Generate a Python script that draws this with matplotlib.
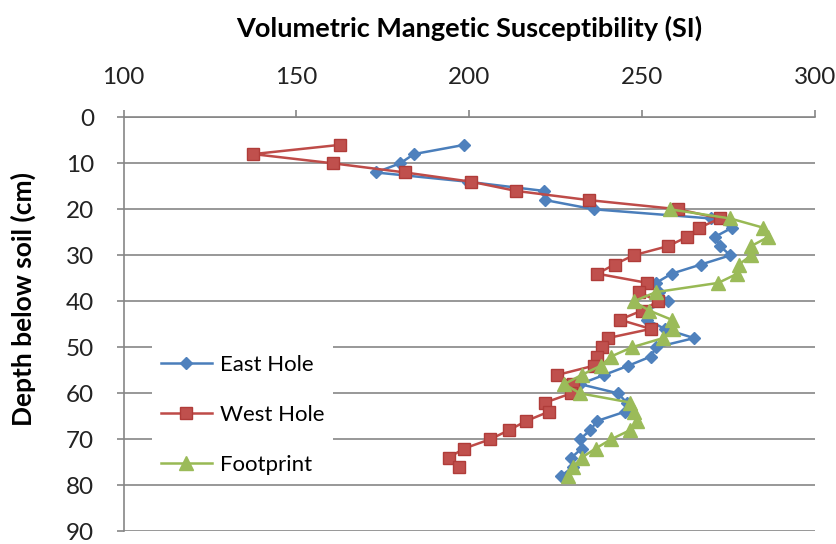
import matplotlib.pyplot as plt

# depth (cm) and susceptibility values
east_depth = [6, 8, 10, 12, 14, 16, 18, 20, 22, 24, 26, 28, 30, 32, 34, 36, 38, 40, 42,
              44, 46, 48, 50, 52, 54, 56, 58, 60, 62, 64, 66, 68, 70, 72, 74, 76, 78]
east_val = [198.5, 184, 180, 173, 199.5, 221.5, 222, 236, 270, 276, 271, 272.5, 275.5, 267,
            258.5, 254, 255, 257.5, 251, 251.5, 256.5, 265, 254, 252.5, 246, 239, 232, 243,
            245.5, 245, 237, 235, 232, 232.5, 229.5, 230, 226.5]

west_depth = [6, 8, 10, 12, 14, 16, 18, 20, 22, 24, 26, 28, 30, 32, 34, 36, 38, 40, 42,
              44, 46, 48, 50, 52, 54, 56, 58, 60, 62, 64, 66, 68, 70, 72, 74, 76]
west_val = [162.5, 137.5, 160.5, 181.5, 200.5, 213.5, 234.5, 260.5, 272.5, 266.5, 263, 257.5,
            247.5, 242, 237, 251.5, 249, 254.5, 250, 243.5, 252.5, 240, 238.5, 237, 236, 225.5,
            230, 229.5, 222, 223, 216.5, 211.5, 206, 198.5, 194, 197]

foot_depth = [20, 22, 24, 26, 28, 30, 32, 34, 36, 38, 40, 42, 44, 46, 48, 50, 52, 54, 56,
              58, 60, 62, 64, 66, 68, 70, 72, 74, 76, 78]
foot_val = [258, 275.5, 285, 286.5, 281.5, 281.5, 278, 277.5, 272, 254, 247.5, 252, 258.5,
            259, 256, 247, 241, 238, 232.5, 227.5, 232, 246.5, 247.5, 248.5, 246.5, 241,
            236.5, 232.5, 230, 228.5]

plt.rcParams['font.family'] = ['Lato', 'DejaVu Sans']

fig = plt.figure(figsize=(8.37, 5.44), dpi=100)
ax = fig.add_axes([0.1476, 0.0233, 0.8262, 0.7611])

ax.plot(east_val, east_depth, color='#4A7EBB', lw=1.8, marker='D', ms=6.5,
        mfc='#4F81BD', mec='#4F81BD', label='East Hole', zorder=3)
ax.plot(west_val, west_depth, color='#BE4B48', lw=1.8, marker='s', ms=9,
        mfc='#C0504D', mec='#B03C39', label='West Hole', zorder=3)
ax.plot(foot_val, foot_depth, color='#98B954', lw=1.8, marker='^', ms=10,
        mfc='#9BBB59', mec='#9BBB59', label='Footprint', zorder=3)

ax.set_xlim(100, 300)
ax.set_ylim(90, 0)
ax.set_xticks([100, 150, 200, 250, 300])
ax.set_yticks(range(0, 91, 10))

ax.xaxis.tick_top()
ax.xaxis.set_label_position('top')
ax.grid(axis='y', color='#868686', lw=1.2)
ax.set_axisbelow(True)

for s in ['right', 'bottom']:
    ax.spines[s].set_visible(False)
for s in ['left', 'top']:
    ax.spines[s].set_color('#868686')
    ax.spines[s].set_linewidth(1.2)

ax.tick_params(axis='both', labelsize=17.5, color='#868686', length=5, width=1.2,
               labelcolor='#222222')
ax.tick_params(axis='x', pad=16)
ax.tick_params(axis='y', pad=16)

ax.set_xlabel('Volumetric Mangetic Susceptibility (SI)', fontsize=19.5,
              fontweight='bold', labelpad=22)
ax.set_ylabel('Depth below soil (cm)', fontsize=19, fontweight='bold')
ax.yaxis.set_label_coords(-0.127, 0.56)

leg = ax.legend(loc='upper left', bbox_to_anchor=(0.025, 0.475), fontsize=16,
                frameon=True, framealpha=1, facecolor='white', edgecolor='none',
                fancybox=False, handlelength=2.3, handletextpad=0.35,
                labelspacing=1.35, borderpad=0.4)
leg.set_zorder(5)

fig.savefig('out.png', dpi=100)
